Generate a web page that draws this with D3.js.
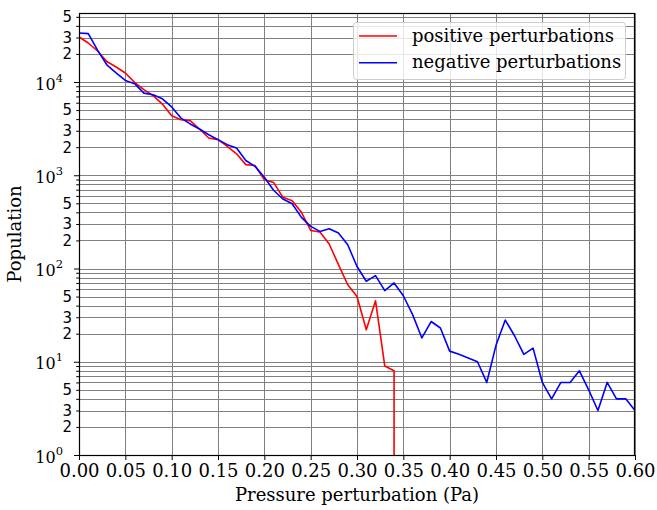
<!DOCTYPE html>
<html><head><meta charset="utf-8">
<script src="https://cdn.jsdelivr.net/npm/d3@7"></script>
<style>body{margin:0;background:#fff}svg{display:block}</style>
</head><body><svg id="c" width="657" height="510"></svg>
<script>
const pressure = [0.00,0.01,0.02,0.03,0.04,0.05,0.06,0.07,0.08,0.09,
  0.10,0.11,0.12,0.13,0.14,0.15,0.16,0.17,0.18,0.19,
  0.20,0.21,0.22,0.23,0.24,0.25,0.26,0.27,0.28,0.29,
  0.30,0.31,0.32,0.33,0.34,0.35,0.36,0.37,0.38,0.39,
  0.40,0.41,0.42,0.43,0.44,0.45,0.46,0.47,0.48,0.49,
  0.50,0.51,0.52,0.53,0.54,0.55,0.56,0.57,0.58,0.59,0.60];
const positive = [30400,26200,21500,16600,14500,12500,9900,8280,7130,5800,
  4350,3945,3850,3130,2510,2410,2040,1700,1300,1270,
  896,838,580,533,400,256,246,183,110,67,
  50,22,45,9,8,0];
const negative = [33500,33000,22000,15300,12500,10400,9600,7600,7300,6600,
  5400,4100,3550,3130,2720,2410,2130,1960,1440,1245,
  950,690,556,495,353,283,250,267,240,180,
  105,73,84,58,70,51,32,18,27,23,
  13,12,11,10,6,15,28,19,12,14,
  6,4,6,6,8,5,3,6,4,4,3];
const xTickValues = [0,0.05,0.10,0.15,0.20,0.25,0.30,0.35,0.40,0.45,0.50,0.55,0.60];
const yMajorTicks = [1,10,100,1000,10000];
const yMinorMultipliers = [2,3,4,5,6,7,8,9];
const yMinorLabeled = [2,3,5];
const seriesNames = ["positive perturbations","negative perturbations"];
const seriesColors = ["#ff0000","#0000ff"];
const xLabel = "Pressure perturbation (Pa)";
const yLabel = "Population";

const M = {left:79, right:635, top:13, bottom:455};
const svg = d3.select("#c");
const x = d3.scaleLinear().domain([0,0.6]).range([M.left,M.right]);
const y = d3.scaleLog().domain([1,Math.pow(10,4.74)]).range([M.bottom,M.top]);

const minorVals = [];
yMajorTicks.forEach(d => yMinorMultipliers.forEach(m => { if (d*m <= y.domain()[1]) minorVals.push(d*m); }));
const mantissa = v => Math.round(v/Math.pow(10,Math.floor(Math.log10(v)+1e-9)));

svg.append("defs").append("clipPath").attr("id","clip")
  .append("rect").attr("x",M.left).attr("y",M.top).attr("width",M.right-M.left).attr("height",M.bottom-M.top);

const grid = svg.append("g").attr("stroke","#808080").attr("stroke-width",1).attr("shape-rendering","crispEdges");
grid.selectAll(".gx").data(xTickValues).join("line")
  .attr("x1",d=>Math.round(x(d))+0.5).attr("x2",d=>Math.round(x(d))+0.5).attr("y1",M.top).attr("y2",M.bottom);
grid.selectAll(".gy").data(yMajorTicks.concat(minorVals)).join("line")
  .attr("x1",M.left).attr("x2",M.right).attr("y1",d=>Math.round(y(d))+0.5).attr("y2",d=>Math.round(y(d))+0.5);

const line = d3.line().x((d,i)=>x(pressure[i])).y(d=>y(Math.max(d,1e-300)));
const plot = svg.append("g").attr("clip-path","url(#clip)");
[positive, negative].forEach((s,k) => {
  plot.append("path").datum(s).attr("d",line).attr("fill","none")
    .attr("stroke",seriesColors[k]).attr("stroke-width",1.6).attr("stroke-linejoin","round");
});

svg.append("rect").attr("x",M.left+0.5).attr("y",M.top+0.5).attr("width",M.right-M.left-1).attr("height",M.bottom-M.top)
  .attr("fill","none").attr("stroke","#000").attr("stroke-width",1.2);

const xAxis = d3.axisBottom(x).tickValues(xTickValues).tickFormat(d=>d.toFixed(2)).tickSize(5).tickPadding(4);
const gx = svg.append("g").attr("transform",`translate(0,${M.bottom})`).call(xAxis);
gx.select(".domain").remove();
gx.selectAll("text").attr("font-family","DejaVu Serif").attr("font-size",18).attr("fill","#000");
gx.selectAll("line").attr("stroke","#000");

const gy = svg.append("g").attr("transform",`translate(${M.left},0)`)
  .call(d3.axisLeft(y).tickValues(yMajorTicks).tickSize(5).tickFormat(""));
gy.select(".domain").remove();
const gym = svg.append("g").attr("transform",`translate(${M.left},0)`)
  .call(d3.axisLeft(y).tickValues(minorVals).tickSize(2.8).tickFormat(""));
gym.select(".domain").remove();

const ml = svg.append("g");
yMajorTicks.forEach(d => {
  const e = Math.round(Math.log10(d));
  const t = ml.append("text").attr("x",63).attr("y",y(d)+7.5).attr("text-anchor","end")
    .attr("font-family","DejaVu Serif").attr("font-size",16).attr("fill","#000");
  t.append("tspan").text("10");
  t.append("tspan").attr("dy",-8).attr("font-size",11.5).text(String(e));
});
svg.append("g").selectAll("text").data(minorVals.filter(v => yMinorLabeled.includes(mantissa(v))))
  .join("text").attr("x",72).attr("y",d=>y(d)).attr("dy","0.36em").attr("text-anchor","end")
  .attr("font-family","DejaVu Sans").attr("font-size",15).attr("fill","#000")
  .text(d=>String(mantissa(d)));

svg.append("text").attr("x",(M.left+M.right)/2).attr("y",501).attr("text-anchor","middle")
  .attr("font-family","DejaVu Serif").attr("font-size",18).text(xLabel);
svg.append("text").attr("transform",`translate(21,${(M.top+M.bottom)/2}) rotate(-90)`).attr("text-anchor","middle")
  .attr("font-family","DejaVu Serif").attr("font-size",18).text(yLabel);

const lg = svg.append("g");
lg.append("rect").attr("x",353.5).attr("y",22.5).attr("width",272).attr("height",57).attr("rx",3)
  .attr("fill","#fff").attr("fill-opacity",0.8).attr("stroke","#cccccc").attr("stroke-width",1);
seriesNames.forEach((n,i) => {
  const yy = 36 + i*26.7;
  lg.append("line").attr("x1",359).attr("x2",397).attr("y1",yy).attr("y2",yy)
    .attr("stroke",seriesColors[i]).attr("stroke-width",1.6);
  lg.append("text").attr("x",412).attr("y",yy).attr("dy","0.32em")
    .attr("font-family","DejaVu Serif").attr("font-size",18).attr("fill","#000").text(n);
});
</script></body></html>
